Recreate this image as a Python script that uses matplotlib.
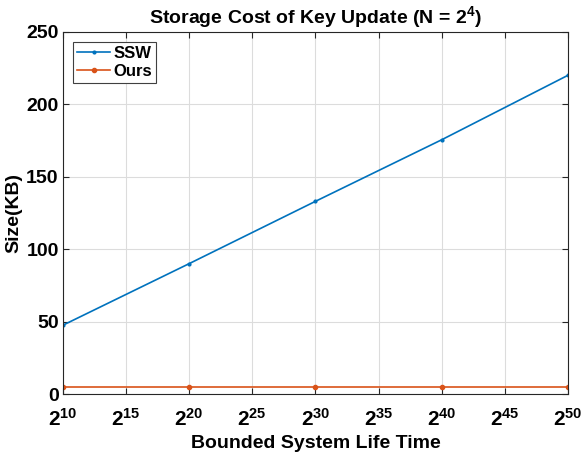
import matplotlib

matplotlib.use("Agg")
import matplotlib.pyplot as plt

plt.rcParams["font.family"] = ["Liberation Sans", "DejaVu Sans"]
plt.rcParams["font.weight"] = "bold"
plt.rcParams["mathtext.fontset"] = "custom"
plt.rcParams["mathtext.rm"] = "Liberation Sans:bold"
plt.rcParams["mathtext.it"] = "Liberation Sans:bold"
plt.rcParams["mathtext.bf"] = "Liberation Sans:bold"

EXPONENTS = [10, 20, 30, 40, 50]
SSW_KB = [47.5, 90, 133, 175.5, 220]
OURS_KB = [5, 5, 5, 5, 5]
TICK_EXPONENTS = [10, 15, 20, 25, 30, 35, 40, 45, 50]
Y_TICKS = [0, 50, 100, 150, 200, 250]

fig = plt.figure(figsize=(5.82, 4.54), dpi=100)
ax = fig.add_axes([0.108, 0.132, 0.868, 0.798])

ax.plot(EXPONENTS, SSW_KB, color="#0072BD", marker=".", markersize=4,
        linewidth=1.2, label="SSW")
ax.plot(EXPONENTS, OURS_KB, color="#D95319", marker=".", markersize=6,
        linewidth=1.2, label="Ours")

ax.set_xlim(10, 50)
ax.set_ylim(0, 250)
ax.set_xticks(TICK_EXPONENTS)
ax.set_xticklabels([f"$2^{{{e}}}$" for e in TICK_EXPONENTS], fontsize=15)
ax.set_yticks(Y_TICKS)
ax.tick_params(axis="y", labelsize=14, pad=3)
ax.tick_params(axis="x", pad=10)
ax.tick_params(direction="in", length=4, color="#262626", top=True, right=True,
               labeltop=False, labelright=False)
ax.grid(color="#dcdcdc", linewidth=0.8)
for spine in ax.spines.values():
    spine.set_color("#262626")
    spine.set_linewidth(0.8)

ax.set_xlabel("Bounded System Life Time", fontsize=14, fontweight="bold",
              labelpad=4)
ax.set_ylabel("Size(KB)", fontsize=14, fontweight="bold", labelpad=3)
ax.set_title("Storage Cost of Key Update (N = $2^{4}$)", fontsize=14,
             fontweight="bold", pad=6)

leg = ax.legend(loc="upper left", fontsize=12, handlelength=2.0,
                handletextpad=0.2, borderpad=0.25, labelspacing=0.2,
                borderaxespad=0.6, fancybox=False, edgecolor="#404040",
                framealpha=1)
leg.get_frame().set_linewidth(0.8)

fig.savefig("out.png", dpi=100)
